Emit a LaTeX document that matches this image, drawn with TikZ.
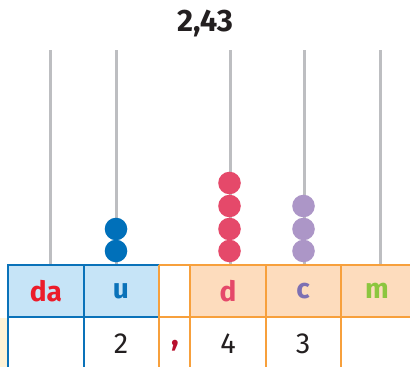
\documentclass[tikz,border=0pt]{standalone}
\usepackage{fontspec}
\setmainfont{Fira Sans}
\usetikzlibrary{positioning}

\definecolor{rodgray}{HTML}{BDBEC1}
\definecolor{beadblue}{HTML}{0070BA}
\definecolor{beadred}{HTML}{E5496A}
\definecolor{beadlilac}{HTML}{AC96C7}
\definecolor{headblue}{HTML}{C6E4F7}
\definecolor{headorange}{HTML}{FDDCBD}
\definecolor{lineblue}{HTML}{0A72B9}
\definecolor{lineorange}{HTML}{F7A03C}
\definecolor{paleyellow}{HTML}{FFF3D6}
\definecolor{tred}{HTML}{EC1C2A}
\definecolor{tpurple}{HTML}{7D70B3}
\definecolor{tgreen}{HTML}{8CC63F}
\definecolor{commared}{HTML}{B8102E}
\definecolor{digit}{HTML}{231F20}

\tikzset{
  rod/.style={rodgray, line width=3pt},
  grid/.style={line width=2pt},
  headtext/.style={font=\fontsize{28}{28}\selectfont\bfseries},
  digittext/.style={font=\fontsize{29}{29}\selectfont, text=digit}
}

\begin{document}
\begin{tikzpicture}[x=1pt, y=-1pt]
    \useasboundingbox (0,0) rectangle (410,367);

    % Title
    \node[font=\fontsize{31}{31}\selectfont\bfseries, text=digit] (title) at (205,24) {2,43};

    % Pale strip on the left
    \fill[paleyellow] (0,318) rectangle (7,367);

    % Header fills
    \fill[headblue] (8,265) rectangle (159,317);
    \fill[headorange] (190,265) rectangle (410,317);

    % Rods
    \foreach \x in {50,116,230,304,380}
        \draw[rod] (\x,50) -- (\x,265);

    % Beads
    \foreach \y in {229,251}
        \fill[beadblue] (116,\y) circle (11.3);
    \foreach \y in {183,206,229,251}
        \fill[beadred] (229.5,\y) circle (11.3);
    \foreach \y in {206,229,251}
        \fill[beadlilac] (303.5,\y) circle (11.3);

    % Blue part of the table
    \draw[grid, lineblue] (159,265) -- (8,265) -- (8,367);
    \draw[grid, lineblue] (8,317) -- (159,317);
    \draw[grid, lineblue] (84,265) -- (84,367);

    % Orange part of the table
    \draw[grid, lineorange] (159,265) -- (410,265);
    \draw[grid, lineorange] (159,317) -- (410,317);
    \foreach \x in {159,190,266,341}
        \draw[grid, lineorange] (\x,265) -- (\x,367);

    % Column heads
    \node[headtext, text=tred] (da) at (46,291) {da};
    \node[headtext, text=lineblue] (u) at (121,291) {u};
    \node[headtext, text=beadred] (d) at (228,291) {d};
    \node[headtext, text=tpurple] (c) at (303,291) {c};
    \node[headtext, text=tgreen] (m) at (377,291) {m};

    % Digits
    \node[digittext] (two) at (121,344) {2};
    \node[font=\fontsize{32}{32}\selectfont\bfseries, text=commared] (comma) at (175,346) {,};
    \node[digittext] (four) at (228,344) {4};
    \node[digittext] (three) at (303,344) {3};
\end{tikzpicture}
\end{document}
